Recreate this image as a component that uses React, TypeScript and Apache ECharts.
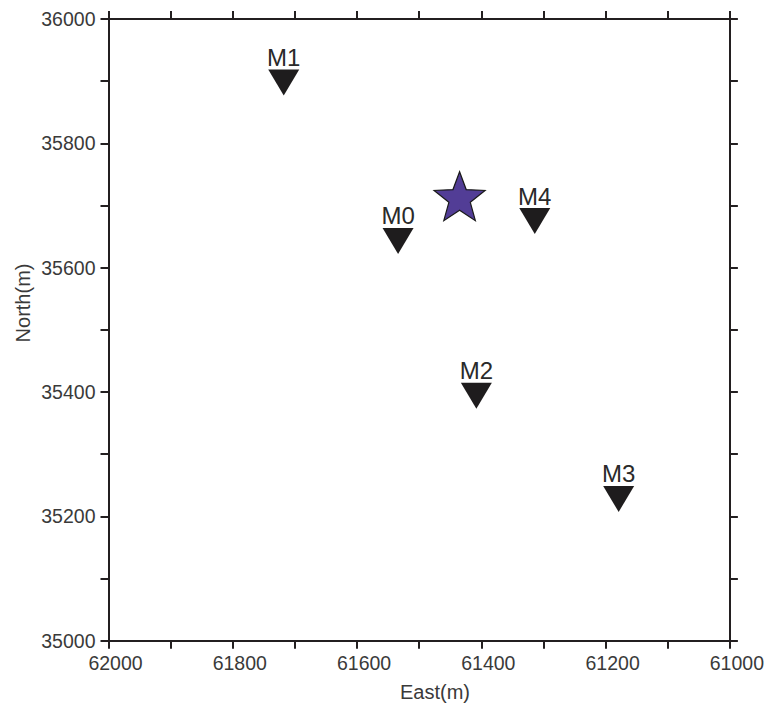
import React, { useEffect, useRef } from "react";
import * as echarts from "echarts";

const stationNames = ["M0", "M1", "M2", "M3", "M4"];
const stationEast = [61534, 61718, 61408, 61179, 61314];
const stationNorth = [35643, 35898, 35394, 35228, 35675];

const eventEast = [61435];
const eventNorth = [35715];

const xTickLabels = [62000, 61800, 61600, 61400, 61200, 61000];
const yTickLabels = [35000, 35200, 35400, 35600, 35800, 36000];

const STAR =
  "path://M50,0 L62.35,33 L97.55,34.55 L69.97,56.5 L79.39,90.45 L50,71 L20.61,90.45 L30.03,56.5 L2.45,34.55 L37.65,33 Z";

const FONT = "'Liberation Sans', Arial, sans-serif";
const AXIS_COLOR = "#231f20";
const TEXT_COLOR = "#3a3a3a";

export default function App() {
  const ref = useRef<HTMLDivElement>(null);
  useEffect(() => {
    document.body.style.margin = "0";
    const chart = echarts.init(ref.current!, null, { renderer: "svg" });
    const lineStyle = { color: AXIS_COLOR, width: 2 };
    const baseAxis = {
      type: "value" as const,
      interval: 100,
      axisLine: { show: true, onZero: false, lineStyle },
      axisTick: { show: true, inside: false, length: 8, lineStyle },
      splitLine: { show: false },
    };
    const option: any = {
      animation: false,
      backgroundColor: "#ffffff",
      grid: { left: 108.5, top: 19, right: 36.3, bottom: 65.3, containLabel: false },
      xAxis: [
        {
          ...baseAxis,
          min: 61000,
          max: 62000,
          inverse: true,
          position: "bottom",
          axisLabel: {
            show: true,
            margin: 12,
            fontSize: 19.5,
            fontFamily: FONT,
            color: TEXT_COLOR,
            padding: [0, 0, 0, 14],
            formatter: (v: number) => (xTickLabels.includes(v) ? String(v) : ""),
          },
        },
        {
          ...baseAxis,
          min: 61000,
          max: 62000,
          inverse: true,
          position: "top",
          axisLabel: { show: false },
        },
      ],
      yAxis: [
        {
          ...baseAxis,
          min: 35000,
          max: 36000,
          position: "left",
          axisLabel: {
            show: true,
            margin: 13,
            fontSize: 19.5,
            fontFamily: FONT,
            color: TEXT_COLOR,
            padding: [0, 0, 5, 0],
            formatter: (v: number) => (yTickLabels.includes(v) ? String(v) : ""),
          },
        },
        {
          ...baseAxis,
          min: 35000,
          max: 36000,
          position: "right",
          axisLabel: { show: false },
        },
      ],
      graphic: [
        {
          type: "text",
          x: 435,
          y: 692,
          style: {
            text: "East(m)",
            fontSize: 20,
            fontFamily: FONT,
            fill: TEXT_COLOR,
            align: "center",
            verticalAlign: "middle",
          },
        },
        {
          type: "text",
          x: 22.5,
          y: 303,
          rotation: Math.PI / 2,
          style: {
            text: "North(m)",
            fontSize: 20,
            fontFamily: FONT,
            fill: TEXT_COLOR,
            align: "center",
            verticalAlign: "middle",
          },
        },
      ],
      series: [
        {
          type: "scatter",
          xAxisIndex: 0,
          yAxisIndex: 0,
          data: stationNames.map((n, i) => ({ name: n, value: [stationEast[i], stationNorth[i]] })),
          symbol: "triangle",
          symbolRotate: 180,
          symbolSize: [31, 26],
          itemStyle: { color: "#1e1c1d", opacity: 1 },
          label: {
            show: true,
            position: "top",
            distance: 0,
            formatter: (p: any) => p.name,
            fontSize: 24,
            fontFamily: FONT,
            color: "#2a2a2a",
          },
          z: 3,
        },
        {
          type: "scatter",
          xAxisIndex: 0,
          yAxisIndex: 0,
          data: eventEast.map((e, i) => [e, eventNorth[i]]),
          symbol: STAR,
          symbolSize: [51, 49],
          itemStyle: { color: "#523d96", opacity: 1, borderColor: "#1a1a1a", borderWidth: 1.2 },
          z: 4,
        },
      ],
    };
    chart.setOption(option);
    return () => chart.dispose();
  }, []);
  return <div ref={ref} style={{ width: 767, height: 706 }} />;
}
